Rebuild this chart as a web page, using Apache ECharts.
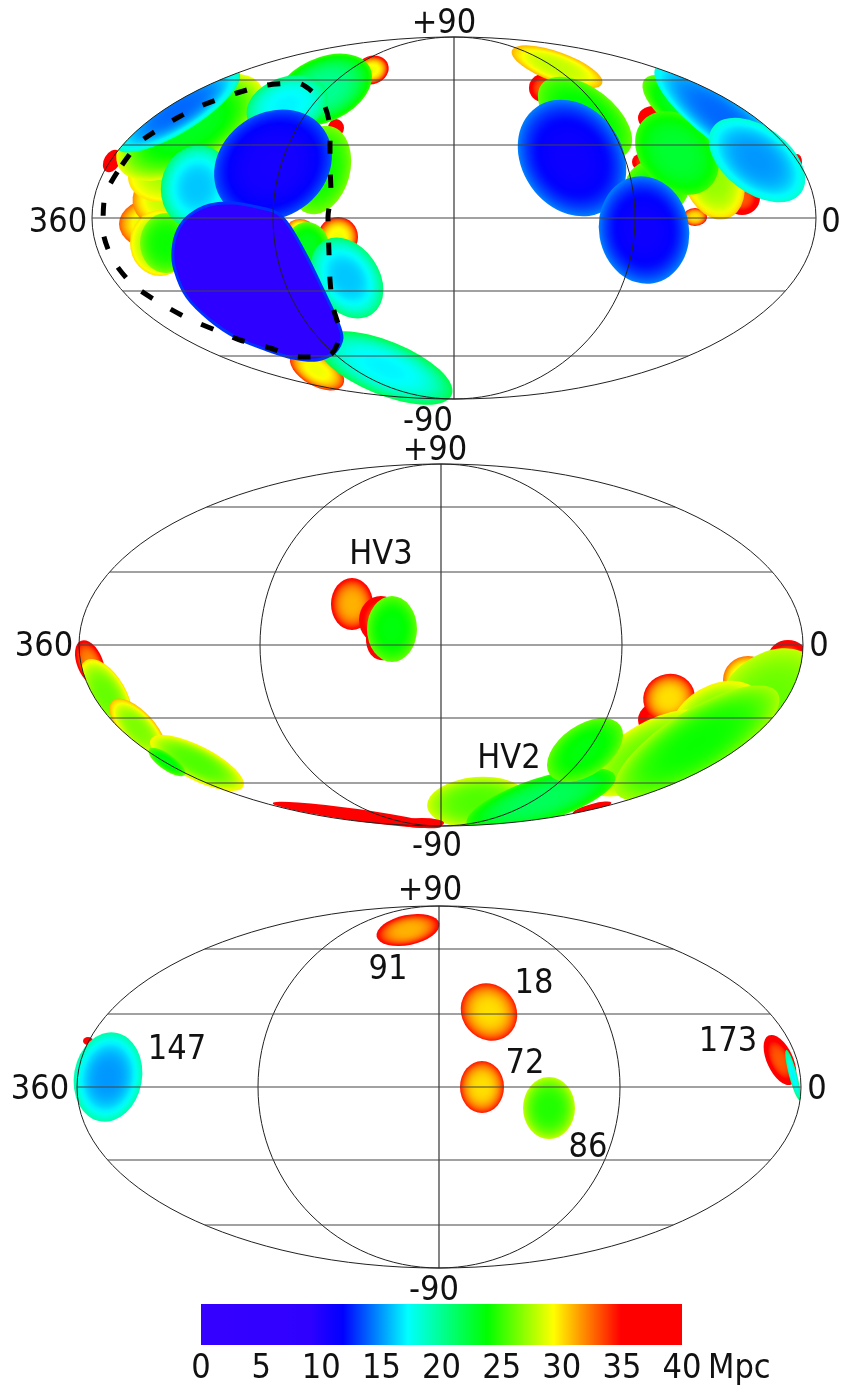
<!DOCTYPE html>
<html><head><meta charset="utf-8">
<style>html,body{margin:0;padding:0;background:#fff}#c{width:842px;height:1390px}</style>
<script src="https://cdn.jsdelivr.net/npm/echarts@6/dist/echarts.min.js"></script>
</head><body><div id="c"></div>
<script>
// Sky-map units: projected offset from each map's centre. Each blob row:
// x, y, semi-axis a, semi-axis b, tilt deg, core Mpc, rim Mpc, clip to map (1/0)
const panelOneBlobs = [
 [-342,57,8,12,-30,36,38,0],[-118,90,8,9,0,36,38,0],[-82,148,17,14,20,29,36,0],
 [89,130,14,14,0,33,37,0],[199,100,15,12,0,35,38,0],[186,56,8,8,0,34,38,0],
 [343,56,5,8,0,35,38,0],[288,20,18,17,0,33,38,0],[241,1,12,9,0,30,35,0],
 [-154,-9,12,8,0,29,33,0],[-116,-19,20,20,0,29,35,0],[-137,-152,30,16,-30,29,34,0],
 [-295,-6,40,27,0,28,33,0],[-287,21,35,30,20,28,32,0],[-274,55,55,35,25,27,30,0],
 [-294,-25,33,30,90,27,30,0],[-288,-25,30,26,90,24,26.5,0],[-264,91,82,40,30,23,29,1],[-276,108,72,22,32,14,19,1],
 [-131,128,52,32,25,20,25,0],[-167,113,42,28,20,17,21,0],[-134,48,45,30,75,24,26.5,0],
 [-257,31,42,36,80,16,21,0],[-147,-29,25,22,90,23,26,0],[-107,-60,44,32,-55,16,21,0],
 [-181,53,62,52,35,10.5,13.5,0],[-69,-150,72,27,-22,17,22,0],
 [103,151,48,15,-20,28,31,0],[131,100,55,30,-38,23.5,26,0],[118,60,62,50,-55,11,14.5,0],
 [259,41,44,30,-70,27,30.5,0],[203,31,32,28,0,24,26,0],[226,111,45,20,-38,23,26,0],
 [223,65,47,36,-45,22.5,25,0],[270,100,85,26,-37,14,18,1],[303,58,55,33,-37,15,18.5,0],
 [190,-12,54,45,-80,11,14.5,0]
];
// Outline of the large nearby region on the first map
const eggOutline = [[-281,-32],[-276,-12],[-264,3],[-244,13],[-221,15],[-197,11],[-177,5],[-164,-9],[-147,-39],[-131,-72],[-117,-102],[-112,-120],[-119,-134],[-137,-142],[-161,-140],[-187,-132],[-217,-120],[-244,-102],[-267,-79],[-279,-52]];
const panelTwoBlobs = [
 [-89,41,26,21,90,31,35.5,0],[-60,25,24,22,90,33,37,0],[-54,12,28,20,70,35,38,0],[-49,16,33,25,90,23.5,26,0],
 [347,-13,20,18,0,33,38,1],[229,-75,32,22,0,33,38,1],[228,-53,26,24,20,30,35,1],
 [201,-142,8,4,0,36,38,0],[151,-163,20,4,15,36,38,1],
 [307,-35,25,24,0,28,32.5,1],[329,-55,60,45,40,26,28,1],[276,-75,50,35,30,26,29.5,1],
 [209,-108,70,30,30,26,29,1],[256,-98,95,33,32,24,27.5,1],
 [36,-157,50,25,5,25.5,28.5,1],[100,-155,78,22,18,21.5,25,1],[144,-105,43,25,35,23.5,26,0],
 [-84,-170,85,6,-8,36,38,0],[-19,-178,22,5,0,36,38,0],
 [-351,-18,24,13,-68,32,36,0],[-335,-50,40,20,-60,26,30,1],[-303,-84,38,17,-48,26.5,31,1],
 [-244,-118,52,17,-27,25.5,29.5,0],[-274,-117,22,8,-35,23.5,26,0]
];
const panelThreeBlobs = [
 [-31,157,32,15,12,31,35.5,0],[50,75,30,27,-50,30,34.5,0],[43,0,26,22,90,30,34.5,0],[110,-21,31,26,90,24.5,28,0],
 [-351,46,5,4,0,36,38,0],[-331,10,45,34,80,15,19.5,0],[341,27,27,13,-65,33,37.5,0],[354,12,26,4,-75,17,21,0]
];
// Survey boundary on the first map
const dashedOutline = [[-332,53],[-314,76],[-277,100],[-251,113],[-217,125],[-187,133],[-157,135],[-131,115],[-124,88],[-124,55],[-123,25],[-126,1],[-125,-35],[-124,-62],[-121,-89],[-114,-115],[-124,-137],[-154,-139],[-184,-130],[-214,-122],[-239,-112],[-267,-100],[-294,-85],[-321,-67],[-341,-42],[-351,-12],[-349,23],[-332,53]];
const latitudeLines = [138,73,0,-73,-138];
const panelOneLabels = [['+90',-10,196],['360',-396,-3],['0',377,-3],['-90',-26,-202]];
const panelTwoLabels = [['+90',-6,196],['360',-397,0],['0',378,0],['-90',-4,-200],['HV3',-60,92],['HV2',68,-112]];
const panelThreeLabels = [['+90',-9,198],['360',-399,-1],['0',378,-1],['-90',-5,-202],['91',-51,119],['18',95,105],['147',-262,39],['173',289,47],['72',86,25],['86',149,-59]];
const colorValues = [0,9,11.8,14.5,17.2,23.8,29.3,34.9,40];
const colorHexes = ['#3500ff','#3000ff','#0000ff','#0080ff','#00ffff','#00ff00','#ffff00','#ff0000','#ff0000'];
const mapCentres = [[454,218],[441,645],[439,1087]];
const RX = 362, RY = 181;
const FONT = '"DejaVu Sans Condensed","DejaVu Sans",sans-serif';

function rgb(h){return [1,3,5].map(i=>parseInt(h.substr(i,2),16));}
function colorAt(v){
  for(let i=1;i<colorValues.length;i++){
    if(v<=colorValues[i]){
      const t=(v-colorValues[i-1])/(colorValues[i]-colorValues[i-1]);
      const a=rgb(colorHexes[i-1]),b=rgb(colorHexes[i]);
      return 'rgb('+a.map((c,k)=>Math.round(c+(b[k]-c)*t)).join(',')+')';
    }
  }
  return colorHexes[colorHexes.length-1];
}
function blobFill(core,edge){
  const stops=[];
  for(let i=0;i<=12;i++){const t=i/12;stops.push({offset:t,color:colorAt(core+(edge-core)*t*t*t)});}
  return {type:'radial',x:.5,y:.5,r:.5,colorStops:stops};
}
function blobSeries(rows,idx){
  return {type:'custom',xAxisIndex:idx,yAxisIndex:idx,coordinateSystem:'cartesian2d',silent:true,z:2,clip:false,
    data:rows,encode:{x:0,y:1},
    renderItem(p,api){
      const c=api.coord([api.value(0),api.value(1)]);
      const o=api.coord([0,0]);
      const sz=api.size([api.value(2),api.value(3)]);
      const frame=api.size([RX,RY]);
      const circle={type:'circle',x:c[0],y:c[1],scaleX:sz[0]/100,scaleY:sz[1]/100,rotation:api.value(4)*Math.PI/180,
        shape:{cx:0,cy:0,r:100},style:{fill:blobFill(api.value(5),api.value(6))}};
      const g={type:'group',children:[circle]};
      if(api.value(7)) g.clipPath={type:'ellipse',shape:{cx:o[0],cy:o[1],rx:frame[0],ry:frame[1]}};
      return g;
    }};
}
function frameSeries(idx){
  return {type:'custom',xAxisIndex:idx,yAxisIndex:idx,coordinateSystem:'cartesian2d',silent:true,z:3,clip:false,
    data:latitudeLines.map(y=>[0,y]),encode:{x:0,y:1},
    renderItem(p,api){
      const y=api.value(1),half=RX*Math.sqrt(1-(y/RY)*(y/RY));
      const a=api.coord([-half,y]),b=api.coord([half,y]);
      const o=api.coord([0,0]),s=api.size([RX,RY]);
      const kids=[{type:'line',shape:{x1:a[0],y1:a[1],x2:b[0],y2:b[1]},style:{stroke:'#444',lineWidth:1.2}}];
      if(p.dataIndex===0){
        kids.push({type:'line',shape:{x1:o[0],y1:o[1]-s[1],x2:o[0],y2:o[1]+s[1]},style:{stroke:'#333',lineWidth:1.2}});
        kids.push({type:'ellipse',shape:{cx:o[0],cy:o[1],rx:s[0],ry:s[1]},style:{fill:'none',stroke:'#222',lineWidth:1}});
        kids.push({type:'ellipse',shape:{cx:o[0],cy:o[1],rx:s[0]/2,ry:s[1]},style:{fill:'none',stroke:'#222',lineWidth:1}});
      }
      return {type:'group',children:kids};
    }};
}
function labelSeries(rows,idx){
  return {type:'custom',xAxisIndex:idx,yAxisIndex:idx,coordinateSystem:'cartesian2d',silent:true,z:5,clip:false,
    data:rows.map(r=>[r[1],r[2]]),encode:{x:0,y:1},
    renderItem(p,api){
      const c=api.coord([api.value(0),api.value(1)]);
      return {type:'text',x:c[0],y:c[1]+2,style:{text:rows[p.dataIndex][0],fontFamily:FONT,fontSize:34,fill:'#111',align:'center',verticalAlign:'middle'}};
    }};
}
const grids=mapCentres.map(c=>({left:c[0]-RX,top:c[1]-RY,width:RX*2,height:RY*2,outerBoundsMode:'none'}));
grids.push({left:201,top:1304,width:481,height:41,outerBoundsMode:'none'});
const xAxes=mapCentres.map((c,i)=>({type:'value',gridIndex:i,min:-RX,max:RX,show:false}));
const yAxes=mapCentres.map((c,i)=>({type:'value',gridIndex:i,min:-RY,max:RY,show:false}));
xAxes.push({type:'value',gridIndex:3,min:0,max:40,interval:5,
  axisLine:{show:false},axisTick:{show:false},splitLine:{show:false},
  axisLabel:{margin:7,fontFamily:FONT,fontSize:34,color:'#111',showMinLabel:true,showMaxLabel:true},
  name:'Mpc',nameLocation:'end',nameGap:0,nameTextStyle:{fontFamily:FONT,fontSize:34,color:'#111',align:'left',verticalAlign:'top',padding:[7,0,0,26]}});
yAxes.push({type:'value',gridIndex:3,min:0,max:1,show:false});

const barStops=colorValues.map((v,i)=>({offset:v/40,color:colorHexes[i]}));
const series=[
  blobSeries(panelOneBlobs,0),blobSeries(panelTwoBlobs,1),blobSeries(panelThreeBlobs,2),
  {type:'custom',xAxisIndex:0,yAxisIndex:0,coordinateSystem:'cartesian2d',silent:true,z:2.5,clip:false,data:[[0,0]],encode:{x:0,y:1},
   renderItem(p,api){
     return {type:'polygon',shape:{points:eggOutline.map(q=>api.coord(q)),smooth:0.3},
       style:{fill:'#2e00ff',stroke:'#0030ff',lineWidth:3}};
   }},
  frameSeries(0),frameSeries(1),frameSeries(2),
  labelSeries(panelOneLabels,0),labelSeries(panelTwoLabels,1),labelSeries(panelThreeLabels,2),
  {type:'line',xAxisIndex:0,yAxisIndex:0,data:dashedOutline,smooth:0.25,showSymbol:false,symbol:'none',silent:true,z:4,clip:false,
   lineStyle:{color:'#000',width:5,type:[13,21]}},
  {type:'custom',xAxisIndex:3,yAxisIndex:3,coordinateSystem:'cartesian2d',silent:true,z:2,data:[[0,0,40,1]],encode:{x:0,y:1},
   renderItem(p,api){
     const a=api.coord([api.value(0),api.value(3)]),b=api.coord([api.value(2),api.value(1)]);
     return {type:'rect',shape:{x:a[0],y:a[1],width:b[0]-a[0],height:b[1]-a[1]},
       style:{fill:{type:'linear',x:0,y:0,x2:1,y2:0,colorStops:barStops}}};
   }}
];
const chart=echarts.init(document.getElementById('c'),null,{renderer:'canvas',width:842,height:1390});
chart.setOption({animation:false,backgroundColor:'#fff',grid:grids,xAxis:xAxes,yAxis:yAxes,series:series});
</script></body></html>
